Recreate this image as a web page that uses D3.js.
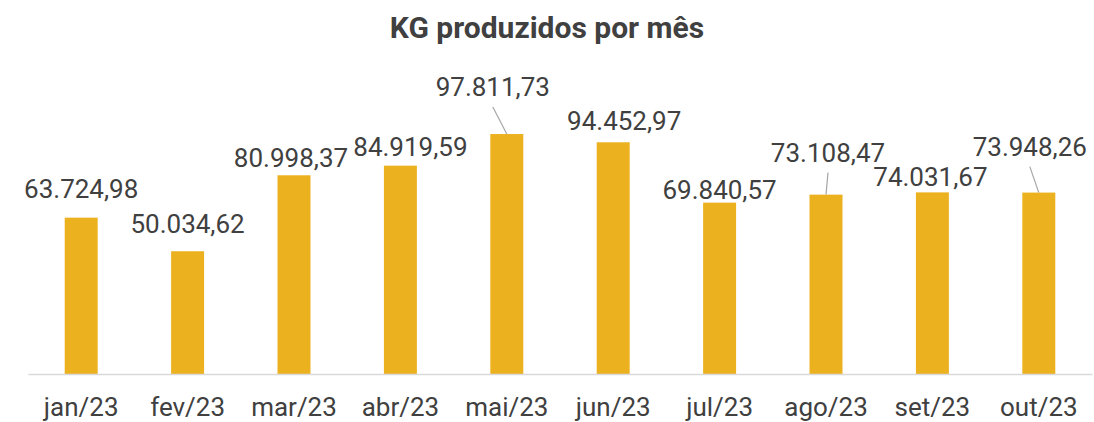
<!DOCTYPE html>
<html>
<head>
<meta charset="utf-8">
<script src="https://cdn.jsdelivr.net/npm/d3@7"></script>
<style>
  body { margin: 0; background: #fff; }
  text { font-family: Roboto, "Noto Sans", sans-serif; }
</style>
</head>
<body>
<div class="bar-chart"></div>
<script>
var months = ["jan/23", "fev/23", "mar/23", "abr/23", "mai/23", "jun/23", "jul/23", "ago/23", "set/23", "out/23"];
var kg = [63724.98, 50034.62, 80998.37, 84919.59, 97811.73, 94452.97, 69840.57, 73108.47, 74031.67, 73948.26];

// where each value label sits relative to the top centre of its bar
var labelDx = [0, 0, -3, 10, -14, 11, 0, 2, -2, -9];
var labelDy = [-20, -18, -8, -10, -38, -12, -4, -33, -6, -37];
var hasLeader = [false, false, false, false, true, false, false, true, false, true];

var w = 1094;
var h = 422;
var baseline = 374;

var svg = d3.select(".bar-chart")
            .append("svg")
            .attr("width", w)
            .attr("height", h);

var x = d3.scaleBand()
          .domain(months)
          .range([28, 1092])
          .paddingInner(0.69)
          .paddingOuter(0.345);

var y = d3.scaleLinear()
          .domain([0, 120000])
          .range([baseline, baseline - 294.4]);

var fmt = d3.formatLocale({ decimal: ",", thousands: ".", grouping: [3] }).format(",.2f");

function cx(i) { return x(months[i]) + x.bandwidth() / 2; }

// title
svg.append("text")
   .attr("x", 547)
   .attr("y", 38)
   .attr("text-anchor", "middle")
   .attr("font-size", "30px")
   .attr("font-weight", "bold")
   .attr("fill", "#404040")
   .text("KG produzidos por mês");

// bars
svg.selectAll("rect.bar")
   .data(kg)
   .enter()
   .append("rect")
   .attr("class", "bar")
   .attr("x", function(d, i) { return x(months[i]); })
   .attr("y", function(d) { return y(d); })
   .attr("width", x.bandwidth())
   .attr("height", function(d) { return baseline - y(d); })
   .attr("fill", "#ECB11F");

// baseline axis
var axis = svg.append("g")
              .attr("transform", "translate(0," + baseline + ")")
              .call(d3.axisBottom(x).tickSize(0).tickPadding(24));
axis.select(".domain")
    .attr("stroke", "#d9d9d9")
    .attr("stroke-width", 1.5);
axis.selectAll("text")
    .attr("font-size", "26px")
    .attr("fill", "#404040");

// leader lines
svg.selectAll("line.leader")
   .data(kg)
   .enter()
   .append("line")
   .attr("class", "leader")
   .attr("display", function(d, i) { return hasLeader[i] ? null : "none"; })
   .attr("x1", function(d, i) { return cx(i) + labelDx[i]; })
   .attr("y1", function(d, i) { return y(d) + labelDy[i] + 11; })
   .attr("x2", function(d, i) { return cx(i); })
   .attr("y2", function(d) { return y(d); })
   .attr("stroke", "#a6a6a6")
   .attr("stroke-width", 1.2);

// value labels
svg.selectAll("text.value")
   .data(kg)
   .enter()
   .append("text")
   .attr("class", "value")
   .attr("x", function(d, i) { return cx(i) + labelDx[i]; })
   .attr("y", function(d, i) { return y(d) + labelDy[i]; })
   .attr("text-anchor", "middle")
   .attr("font-size", "26px")
   .attr("fill", "#404040")
   .text(function(d) { return fmt(d); });
</script>
</body>
</html>
